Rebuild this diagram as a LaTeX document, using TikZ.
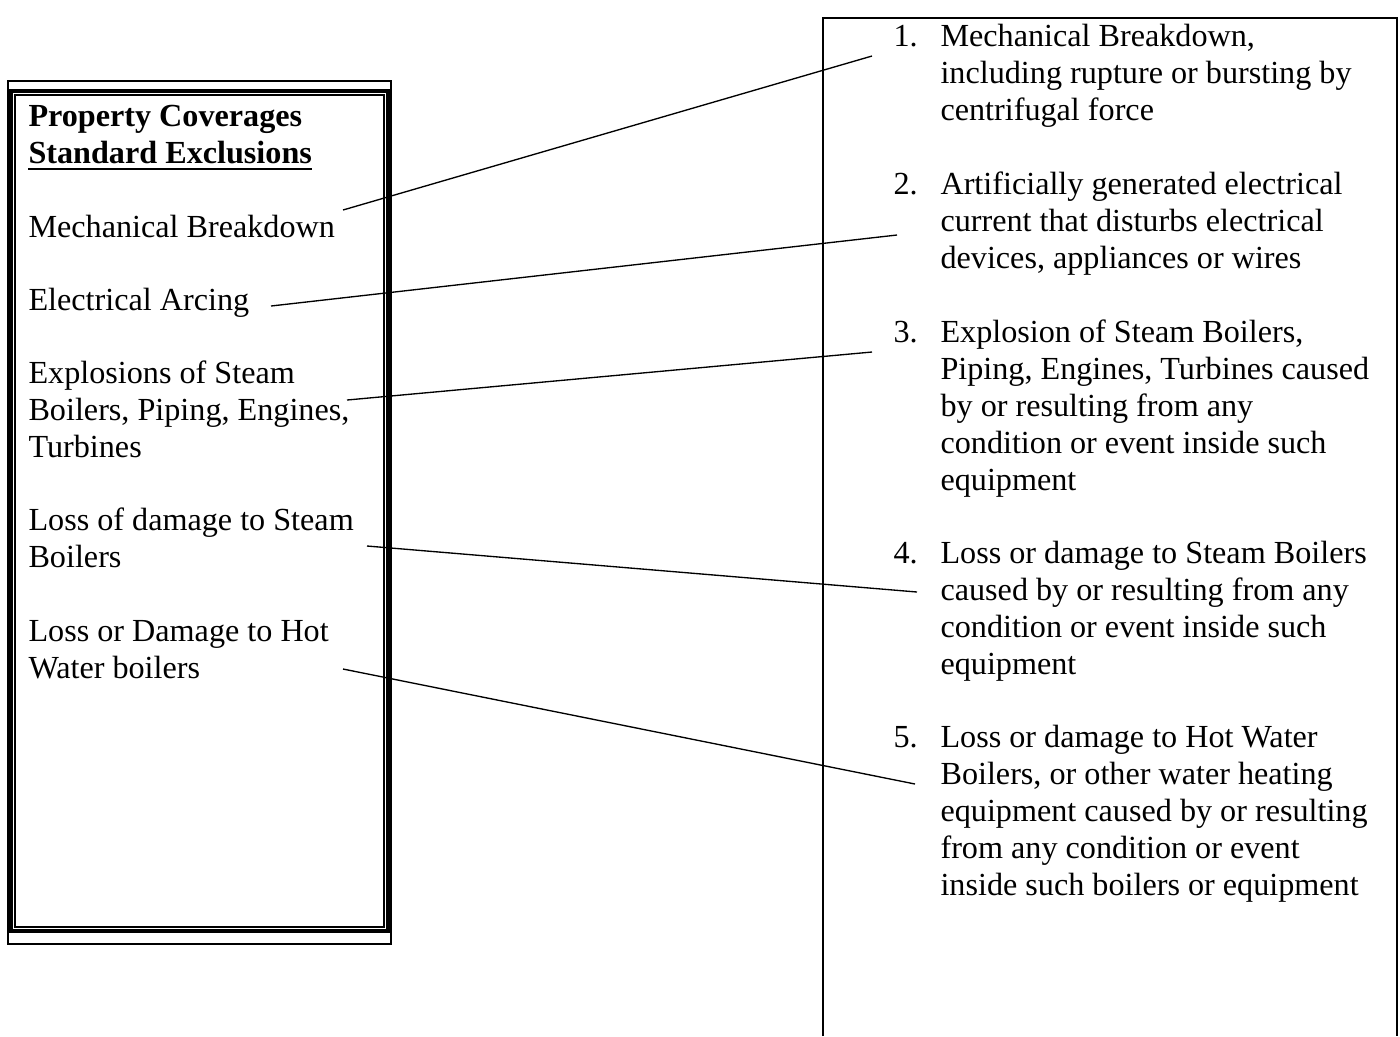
\documentclass[tikz,border=0pt]{standalone}
\usepackage{fontspec}
\setmainfont{Liberation Serif}
\usepackage{tikz}

\tikzset{
  txt/.style={anchor=base west, inner sep=0pt, font=\fontsize{12}{13.8}\selectfont},
  link/.style={line width=0.5pt}
}

\begin{document}
\begin{tikzpicture}[x=0.373pt, y=-0.373pt]

\useasboundingbox (0, 0) rectangle (1400, 1036);

% left frame
\draw[line width=0.4pt] (8, 81) rectangle (391, 944);
\draw[line width=1.4pt] (11, 91) rectangle (388, 931);
\draw[line width=0.4pt] (15, 95) rectangle (384, 927);

% right frame, open at the bottom
\draw[line width=0.6pt] (823, 1036) -- (823, 18) -- (1397, 18) -- (1397, 1036);

% left column
\node[txt] (cov) at (28, 126) {\textbf{Property Coverages}};
\node[txt] (excl) at (28, 163) {\textbf{Standard Exclusions}};
\draw[line width=0.8pt] ([yshift=-2.2pt]excl.base west) -- ([yshift=-2.2pt]excl.base east);
\node[txt] (mech) at (28, 237) {Mechanical Breakdown};
\node[txt] (arc) at (28, 310) {Electrical Arcing};
\node[txt] (expl) at (28, 383) {Explosions of Steam};
\node[txt] (expl2) at (28, 420) {Boilers, Piping, Engines,};
\node[txt] (expl3) at (28, 457) {Turbines};
\node[txt] (steam) at (28, 530) {Loss of damage to Steam};
\node[txt] (steam2) at (28, 567) {Boilers};
\node[txt] (hot) at (28, 641) {Loss or Damage to Hot};
\node[txt] (hot2) at (28, 678) {Water boilers};

% right column
\node[txt] (n1) at (893, 46) {1.};
\node[txt] (d1a) at (940, 46) {Mechanical Breakdown,};
\node[txt] (d1b) at (940, 83) {including rupture or bursting by};
\node[txt] (d1c) at (940, 120) {centrifugal force};

\node[txt] (n2) at (893, 194) {2.};
\node[txt] (d2a) at (940, 194) {Artificially generated electrical};
\node[txt] (d2b) at (940, 231) {current that disturbs electrical};
\node[txt] (d2c) at (940, 268) {devices, appliances or wires};

\node[txt] (n3) at (893, 342) {3.};
\node[txt] (d3a) at (940, 342) {Explosion of Steam Boilers,};
\node[txt] (d3b) at (940, 379) {Piping, Engines, Turbines caused};
\node[txt] (d3c) at (940, 416) {by or resulting from any};
\node[txt] (d3d) at (940, 453) {condition or event inside such};
\node[txt] (d3e) at (940, 490) {equipment};

\node[txt] (n4) at (893, 563) {4.};
\node[txt] (d4a) at (940, 563) {Loss or damage to Steam Boilers};
\node[txt] (d4b) at (940, 600) {caused by or resulting from any};
\node[txt] (d4c) at (940, 637) {condition or event inside such};
\node[txt] (d4d) at (940, 674) {equipment};

\node[txt] (n5) at (893, 747) {5.};
\node[txt] (d5a) at (940, 747) {Loss or damage to Hot Water};
\node[txt] (d5b) at (940, 784) {Boilers, or other water heating};
\node[txt] (d5c) at (940, 821) {equipment caused by or resulting};
\node[txt] (d5d) at (940, 858) {from any condition or event};
\node[txt] (d5e) at (940, 895) {inside such boilers or equipment};

% connector ends
\coordinate (mechend) at (343, 210);
\coordinate (arcend) at (271, 306);
\coordinate (explend) at (347, 400);
\coordinate (steamend) at (367, 546);
\coordinate (hotend) at (343, 669);
\coordinate (r1) at (872, 56);
\coordinate (r2) at (897, 235);
\coordinate (r3) at (872, 352);
\coordinate (r4) at (917, 592);
\coordinate (r5) at (915, 784);

\draw[link] (mechend) -- (r1);
\draw[link] (arcend) -- (r2);
\draw[link] (explend) -- (r3);
\draw[link] (steamend) -- (r4);
\draw[link] (hotend) -- (r5);

\end{tikzpicture}
\end{document}
